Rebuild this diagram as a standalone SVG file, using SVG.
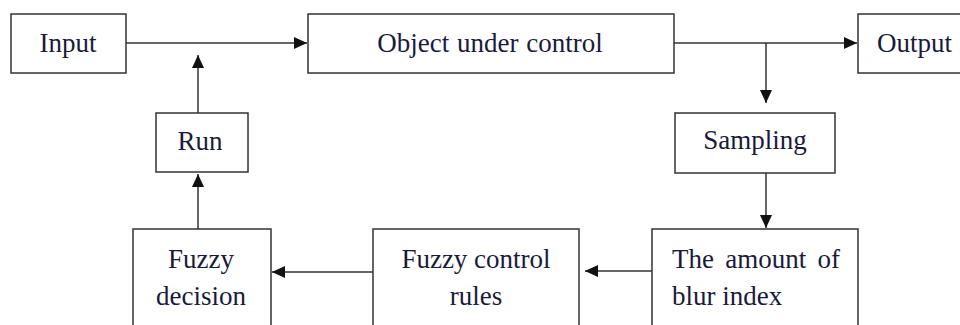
<svg xmlns="http://www.w3.org/2000/svg" width="960" height="325" viewBox="0 0 960 325">
<defs>
<marker id="arr" markerWidth="14" markerHeight="14" refX="13" refY="6" orient="auto" markerUnits="userSpaceOnUse">
<path d="M0,0 L13,6 L0,12 Z" fill="#111"/>
</marker>
<style>
rect.box{fill:#fff;stroke:#333;stroke-width:1.5}
text{font-family:"Liberation Serif","Times New Roman",serif;font-size:27px;fill:#1a1a3a}
.c{text-anchor:middle}
.conn{stroke:#333;stroke-width:1.5;fill:none}
</style>
</defs>
<rect width="960" height="325" fill="#fff"/>
<g id="connectors">
<line class="conn" x1="126" y1="43" x2="307" y2="43" marker-end="url(#arr)"/>
<line class="conn" x1="674" y1="43" x2="857" y2="43" marker-end="url(#arr)"/>
<line class="conn" x1="766" y1="43" x2="766" y2="103" marker-end="url(#arr)"/>
<line class="conn" x1="766" y1="173" x2="766" y2="228" marker-end="url(#arr)"/>
<line class="conn" x1="652" y1="271" x2="585" y2="271" marker-end="url(#arr)"/>
<line class="conn" x1="373" y1="272" x2="272" y2="272" marker-end="url(#arr)"/>
<line class="conn" x1="198" y1="229" x2="198" y2="174" marker-end="url(#arr)"/>
<line class="conn" x1="198" y1="113" x2="198" y2="55" marker-end="url(#arr)"/>
</g>
<g id="input">
<rect class="box" x="11" y="14" width="115" height="59"/>
<text class="c" x="68" y="52">Input</text>
</g>
<g id="object">
<rect class="box" x="308" y="14" width="366" height="59"/>
<text class="c" x="490" y="52" word-spacing="1">Object under control</text>
</g>
<g id="output">
<rect class="box" x="858" y="14" width="110" height="59"/>
<text x="877" y="52">Output</text>
</g>
<g id="sampling">
<rect class="box" x="675" y="113" width="160" height="60"/>
<text class="c" x="755" y="149">Sampling</text>
</g>
<g id="blur">
<rect class="box" x="652" y="229" width="206" height="110"/>
<text x="672" y="268" word-spacing="4.5">The amount of</text>
<text x="672" y="305">blur index</text>
</g>
<g id="rules">
<rect class="box" x="373" y="229" width="206" height="110"/>
<text class="c" x="476" y="268">Fuzzy control</text>
<text class="c" x="476" y="305">rules</text>
</g>
<g id="decision">
<rect class="box" x="133" y="229" width="138" height="110"/>
<text class="c" x="201" y="268">Fuzzy</text>
<text class="c" x="201" y="305">decision</text>
</g>
<g id="run">
<rect class="box" x="156" y="113" width="92" height="59"/>
<text class="c" x="200" y="150">Run</text>
</g>
</svg>
